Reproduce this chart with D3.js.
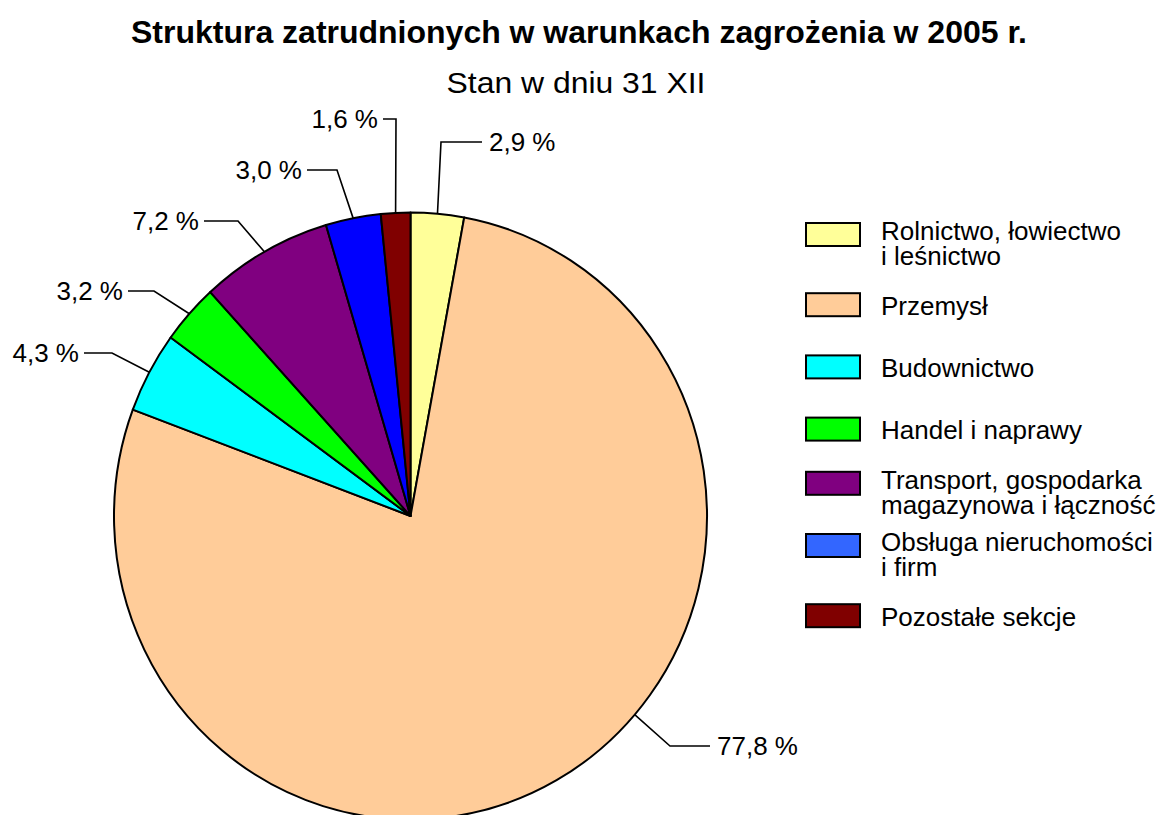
<!DOCTYPE html>
<html>
<head>
<meta charset="utf-8">
<script src="https://cdn.jsdelivr.net/npm/d3@7"></script>
<style>
  body { margin: 0; background: #fff; }
  svg { display: block; }
  text { font-family: "Liberation Sans", Arial, sans-serif; fill: #000; }
</style>
</head>
<body>
<div id="chart"></div>
<script>
// data, clockwise from 12 o'clock
var categories = ["Rolnictwo, łowiectwo i leśnictwo", "Przemysł", "Budownictwo", "Handel i naprawy",
  "Transport, gospodarka magazynowa i łączność", "Obsługa nieruchomości i firm", "Pozostałe sekcje"];
var legendLines = [["Rolnictwo, łowiectwo", "i leśnictwo"], ["Przemysł"], ["Budownictwo"], ["Handel i naprawy"],
  ["Transport, gospodarka", "magazynowa i łączność"], ["Obsługa nieruchomości", "i firm"], ["Pozostałe sekcje"]];
var shares = [2.9, 77.8, 4.3, 3.2, 7.2, 3.0, 1.6];
var shareLabels = ["2,9 %", "77,8 %", "4,3 %", "3,2 %", "7,2 %", "3,0 %", "1,6 %"];
var sliceColors = ["#FFFF99", "#FFCC99", "#00FFFF", "#00FF00", "#800080", "#0000FF", "#800000"];
var legendColors = ["#FFFF99", "#FFCC99", "#00FFFF", "#00FF00", "#800080", "#3366FF", "#800000"];

// leader layout: where along the slice the line leaves, elbow offset from centre, horizontal run
var leaderFrac = [0.5, 0.43, 0.5, 0.5, 0.5, 0.5, 0.5];
var leaderElbow = [[30.5, -374], [259.5, 230], [-298.5, -163], [-256.5, -225], [-172.5, -295], [-73.5, -346], [-14.5, -397]];
var leaderRun = [41, 40, -28, -26, -34, -30, -13];

var W = 1166, H = 815;
var cx = 410.5, cy = 516, r = 296.5, squash = 1.024;

var svg = d3.select('#chart').append('svg')
  .attr('width', W)
  .attr('height', H);

svg.append('text')
  .attr('x', 579).attr('y', 43)
  .attr('text-anchor', 'middle')
  .attr('textLength', 896).attr('lengthAdjust', 'spacingAndGlyphs')
  .style('font-size', '32px').style('font-weight', 'bold')
  .text('Struktura zatrudnionych w warunkach zagrożenia w 2005 r.');

svg.append('text')
  .attr('x', 576).attr('y', 93)
  .attr('text-anchor', 'middle')
  .attr('textLength', 259).attr('lengthAdjust', 'spacingAndGlyphs')
  .style('font-size', '30px')
  .text('Stan w dniu 31 XII');

var pie = d3.pie().sort(null).value(function(d) { return d; });
var arcs = pie(shares);
var arc = d3.arc().innerRadius(0).outerRadius(r);

svg.append('g')
    .attr('transform', 'translate(' + cx + ',' + cy + ') scale(1,' + squash + ')')
  .selectAll('path')
    .data(arcs)
  .enter().append('path')
    .attr('d', arc)
    .attr('fill', function(d, i) { return sliceColors[i]; })
    .attr('stroke', '#000')
    .attr('stroke-width', 2)
    .attr('stroke-linejoin', 'round')
    .attr('vector-effect', 'non-scaling-stroke');

// leader lines and value labels
var labels = svg.append('g');
arcs.forEach(function(d, i) {
  var a = d.startAngle + leaderFrac[i] * (d.endAngle - d.startAngle);
  var p0 = [cx + r * Math.sin(a), cy - r * squash * Math.cos(a)];
  var p1 = [cx + leaderElbow[i][0], cy + leaderElbow[i][1]];
  var p2 = [p1[0] + leaderRun[i], p1[1]];
  labels.append('path')
    .attr('d', d3.line()([p0, p1, p2]))
    .attr('fill', 'none')
    .attr('stroke', '#000')
    .attr('stroke-width', 1.6);
  var right = leaderRun[i] > 0;
  labels.append('text')
    .attr('x', p2[0] + (right ? 7 : -5))
    .attr('y', p2[1] + 9)
    .attr('text-anchor', right ? 'start' : 'end')
    .style('font-size', '26px')
    .text(shareLabels[i]);
});

// legend
var legend = svg.append('g');
var lineH = 24.5;
categories.forEach(function(c, i) {
  var lines = legendLines[i];
  var mid = 243 + i * 62.2;
  var boxMid = lines.length > 1 ? mid - 8 : mid;
  legend.append('rect')
    .attr('x', 806).attr('y', boxMid - 12)
    .attr('width', 54).attr('height', 23)
    .attr('fill', legendColors[i])
    .attr('stroke', '#000')
    .attr('stroke-width', 2);
  var firstBase = mid + 9.5 - (lines.length - 1) * lineH / 2;
  legend.append('text')
    .attr('x', 881)
    .style('font-size', '26px')
    .selectAll('tspan')
      .data(lines)
    .enter().append('tspan')
      .attr('x', 881)
      .attr('y', function(l, j) { return firstBase + j * lineH; })
      .text(function(l) { return l; });
});
</script>
</body>
</html>
